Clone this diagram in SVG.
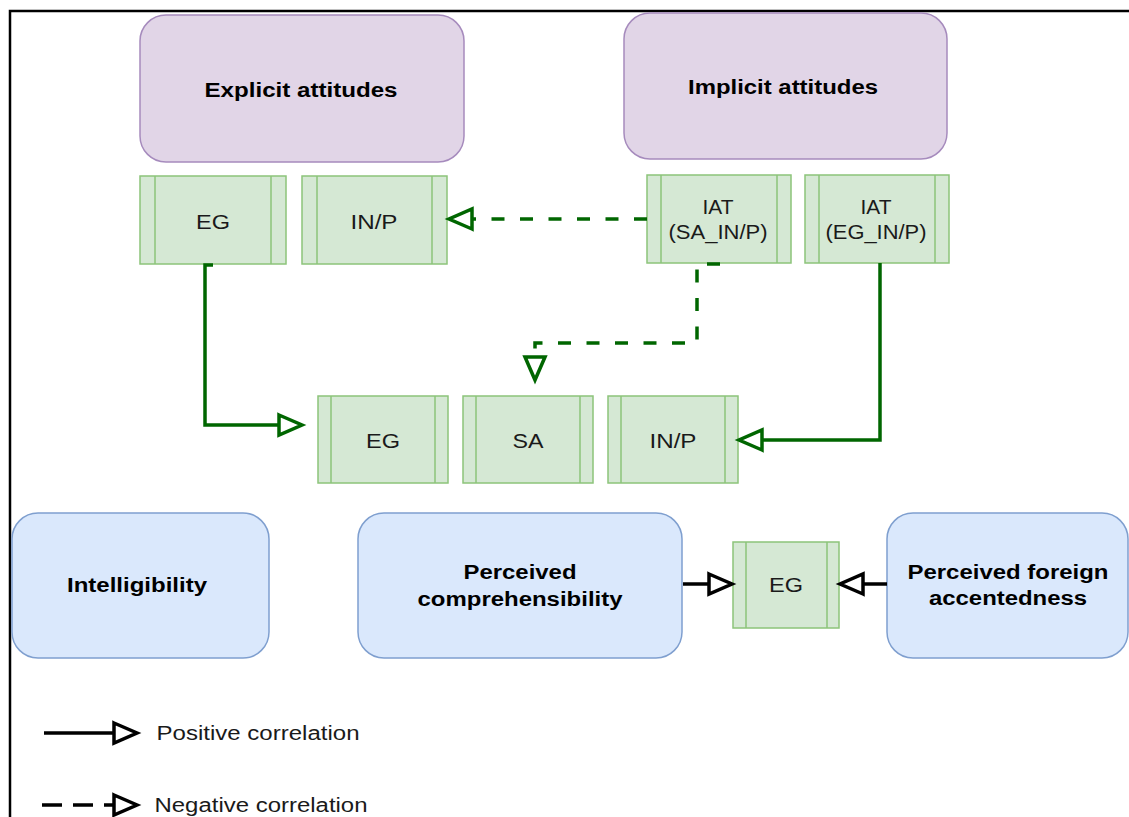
<svg xmlns="http://www.w3.org/2000/svg" width="1129" height="817" viewBox="0 0 1129 817">
  <style>
    .attitude { fill: #e1d5e7; stroke: #a68bbd; stroke-width: 1.5; }
    .measure  { fill: #dae8fc; stroke: #7f9fcf; stroke-width: 1.5; }
    .proc     { fill: #d5e8d4; stroke: #8cc47a; stroke-width: 1.5; }
    .proc-bar { fill: none; stroke: #8cc47a; stroke-width: 1.5; }
    .title    { font-family: "Liberation Sans", Arial, sans-serif; font-size: 20px; font-weight: bold; fill: #000; text-anchor: middle; }
    .label    { font-family: "Liberation Sans", Arial, sans-serif; font-size: 20px; fill: #1a1a1a; text-anchor: middle; }
    .pos-g    { fill: none; stroke: #006600; stroke-width: 3.5; }
    .neg-g    { fill: none; stroke: #006600; stroke-width: 3.5; stroke-dasharray: 13 15.5; }
    .pos-k    { fill: none; stroke: #000; stroke-width: 3.5; }
    .neg-k    { fill: none; stroke: #000; stroke-width: 3.5; stroke-dasharray: 20 11; }
  </style>
  <defs>
    <marker id="tri-green" markerUnits="userSpaceOnUse" markerWidth="30" markerHeight="26" refX="25" refY="12" orient="auto" overflow="visible">
      <path d="M2,2 L25,12 L2,22 Z" fill="#fff" stroke="#006600" stroke-width="3.5" stroke-dasharray="none" stroke-linejoin="miter"/>
    </marker>
    <marker id="tri-black" markerUnits="userSpaceOnUse" markerWidth="30" markerHeight="26" refX="25" refY="12" orient="auto" overflow="visible">
      <path d="M2,2 L25,12 L2,22 Z" fill="#fff" stroke="#000" stroke-width="3.5" stroke-dasharray="none" stroke-linejoin="miter"/>
    </marker>
  </defs>

  <rect width="1129" height="817" fill="#fff"/>
  <!-- frame -->
  <path d="M10,817 L10,11 L1129,11" fill="none" stroke="#000" stroke-width="2.5"/>

  <!-- attitude groups -->
  <g id="explicit-attitudes">
    <rect class="attitude" x="140" y="15" width="324" height="147" rx="26"/>
    <text class="title" x="301" y="97" textLength="193" lengthAdjust="spacingAndGlyphs">Explicit attitudes</text>
  </g>
  <g id="implicit-attitudes">
    <rect class="attitude" x="624" y="13" width="323" height="146" rx="26"/>
    <text class="title" x="783" y="94" textLength="190" lengthAdjust="spacingAndGlyphs">Implicit attitudes</text>
  </g>

  <!-- explicit measures -->
  <g id="explicit-eg">
    <rect class="proc" x="140" y="176" width="146" height="88"/>
    <path class="proc-bar" d="M155,176 V264 M271,176 V264"/>
    <text class="label" x="213" y="229" textLength="34" lengthAdjust="spacingAndGlyphs">EG</text>
  </g>
  <g id="explicit-inp">
    <rect class="proc" x="302" y="176" width="145" height="88"/>
    <path class="proc-bar" d="M317,176 V264 M432,176 V264"/>
    <text class="label" x="374" y="229" textLength="47" lengthAdjust="spacingAndGlyphs">IN/P</text>
  </g>

  <!-- implicit measures -->
  <g id="iat-sa-inp">
    <rect class="proc" x="647" y="175" width="144" height="88"/>
    <path class="proc-bar" d="M661,175 V263 M777,175 V263"/>
    <text class="label" x="718" y="214" textLength="31" lengthAdjust="spacingAndGlyphs">IAT</text>
    <text class="label" x="718" y="239" textLength="99" lengthAdjust="spacingAndGlyphs">(SA_IN/P)</text>
  </g>
  <g id="iat-eg-inp">
    <rect class="proc" x="805" y="175" width="144" height="88"/>
    <path class="proc-bar" d="M819,175 V263 M935,175 V263"/>
    <text class="label" x="876" y="214" textLength="31" lengthAdjust="spacingAndGlyphs">IAT</text>
    <text class="label" x="876" y="239" textLength="101" lengthAdjust="spacingAndGlyphs">(EG_IN/P)</text>
  </g>

  <!-- speaker groups -->
  <g id="group-eg">
    <rect class="proc" x="318" y="396" width="130" height="87"/>
    <path class="proc-bar" d="M331,396 V483 M435,396 V483"/>
    <text class="label" x="383" y="448" textLength="34" lengthAdjust="spacingAndGlyphs">EG</text>
  </g>
  <g id="group-sa">
    <rect class="proc" x="463" y="396" width="130" height="87"/>
    <path class="proc-bar" d="M476,396 V483 M580,396 V483"/>
    <text class="label" x="528" y="448" textLength="31" lengthAdjust="spacingAndGlyphs">SA</text>
  </g>
  <g id="group-inp">
    <rect class="proc" x="608" y="396" width="130" height="87"/>
    <path class="proc-bar" d="M621,396 V483 M725,396 V483"/>
    <text class="label" x="673" y="448" textLength="47" lengthAdjust="spacingAndGlyphs">IN/P</text>
  </g>

  <!-- listener judgements -->
  <g id="intelligibility">
    <rect class="measure" x="12" y="513" width="257" height="145" rx="26"/>
    <text class="title" x="137" y="592" textLength="140" lengthAdjust="spacingAndGlyphs">Intelligibility</text>
  </g>
  <g id="comprehensibility">
    <rect class="measure" x="358" y="513" width="324" height="145" rx="26"/>
    <text class="title" x="520" y="579" textLength="113" lengthAdjust="spacingAndGlyphs">Perceived</text>
    <text class="title" x="520" y="606" textLength="205" lengthAdjust="spacingAndGlyphs">comprehensibility</text>
  </g>
  <g id="accentedness">
    <rect class="measure" x="887" y="513" width="241" height="145" rx="26"/>
    <text class="title" x="1008" y="579" textLength="201" lengthAdjust="spacingAndGlyphs">Perceived foreign</text>
    <text class="title" x="1008" y="605" textLength="158" lengthAdjust="spacingAndGlyphs">accentedness</text>
  </g>
  <g id="listener-eg">
    <rect class="proc" x="733" y="542" width="106" height="86"/>
    <path class="proc-bar" d="M746,542 V628 M827,542 V628"/>
    <text class="label" x="786" y="592" textLength="34" lengthAdjust="spacingAndGlyphs">EG</text>
  </g>

  <!-- connectors -->
  <g id="connectors">
    <path class="pos-g" d="M213,265 L205,265 L205,425 L302,425" marker-end="url(#tri-green)"/>
    <path class="pos-g" d="M880,263 L880,440 L739,440" marker-end="url(#tri-green)"/>
    <path class="neg-g" d="M647,219 L449,219" marker-end="url(#tri-green)"/>
    <path class="neg-g" d="M720,264 L697,264 L697,343 L535,343 L535,380" marker-end="url(#tri-green)"/>
    <path class="pos-k" d="M683,584 L732,584" marker-end="url(#tri-black)"/>
    <path class="pos-k" d="M887,584 L840,584" marker-end="url(#tri-black)"/>
  </g>

  <!-- legend -->
  <g id="legend">
    <path class="pos-k" d="M44,733 L137,733" marker-end="url(#tri-black)"/>
    <text class="label" x="258" y="740" textLength="203" lengthAdjust="spacingAndGlyphs">Positive correlation</text>
    <path class="neg-k" d="M42,805 L137,805" marker-end="url(#tri-black)"/>
    <text class="label" x="261" y="812" textLength="213" lengthAdjust="spacingAndGlyphs">Negative correlation</text>
  </g>
</svg>
